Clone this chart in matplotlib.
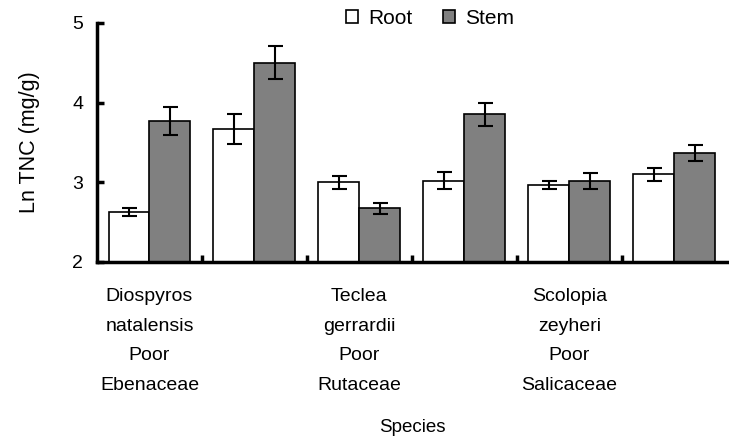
import numpy as np
import matplotlib.pyplot as plt

plt.rcParams['font.family'] = ['Liberation Sans', 'DejaVu Sans']

species = ['Diospyros\nnatalensis\nPoor\nEbenaceae', '',
           'Teclea\ngerrardii\nPoor\nRutaceae', '',
           'Scolopia\nzeyheri\nPoor\nSalicaceae', '']
root = [2.62, 3.67, 3.00, 3.02, 2.97, 3.10]
root_err = [0.05, 0.19, 0.08, 0.11, 0.05, 0.08]
stem = [3.77, 4.50, 2.67, 3.85, 3.02, 3.37]
stem_err = [0.18, 0.21, 0.07, 0.14, 0.10, 0.10]

fig = plt.figure(figsize=(7.29, 4.40), dpi=100)
ax = fig.add_axes([0.133, 0.405, 0.864, 0.543])

x = np.arange(len(root))
w = 0.39
err_kw = dict(ecolor='black', elinewidth=1.5, capsize=5.4, capthick=1.5)
ax.bar(x - w / 2, root, w, color='white', edgecolor='black',
       linewidth=1.2, yerr=root_err, error_kw=err_kw, label='Root')
ax.bar(x + w / 2, stem, w, color='#808080', edgecolor='black',
       linewidth=1.2, yerr=stem_err, error_kw=err_kw, label='Stem')

ax.set_ylim(2, 5)
ax.set_xlim(-0.5, 5.5)
ax.set_yticks([2, 3, 4, 5])
ax.set_xticks(x)
ax.set_xticklabels(species, linespacing=1.97, fontsize=14)
ax.set_xticks(np.arange(0.5, 5.5, 1), minor=True)
ax.tick_params(axis='x', which='major', length=0, pad=19)
ax.tick_params(axis='x', which='minor', direction='in', length=5, width=2.5)
ax.tick_params(axis='y', direction='in', length=5, width=2.5, labelsize=14, pad=10)

for s in ['top', 'right']:
    ax.spines[s].set_visible(False)
ax.spines['left'].set_linewidth(2.5)
ax.spines['bottom'].set_linewidth(2.5)

ax.set_ylabel('Ln TNC (mg/g)', fontsize=15.5, labelpad=23)
ax.set_xlabel('Species', fontsize=13.5, labelpad=18)

fig.legend(loc='center', bbox_to_anchor=(0.59, 0.959), ncol=2, frameon=False,
           fontsize=15, handlelength=0.58, handleheight=0.58, handletextpad=0.48,
           columnspacing=1.49)

fig.savefig('out.png', dpi=100)
